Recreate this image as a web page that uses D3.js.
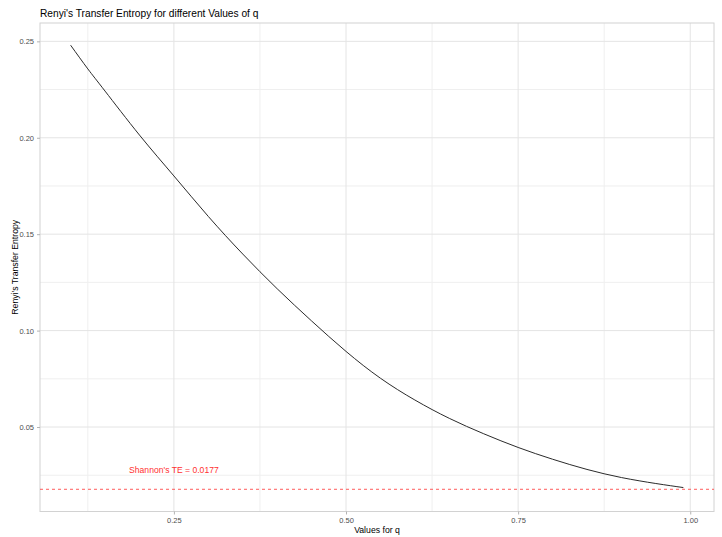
<!DOCTYPE html>
<html><head><meta charset="utf-8">
<script src="https://cdn.jsdelivr.net/npm/d3@7"></script>
<style>body{margin:0;background:#fff;} text{font-family:"Liberation Sans",Arial,sans-serif;}</style>
</head><body>
<svg id="chart" width="722" height="537"></svg>
<script>
const qValues = [0.10,0.125,0.15,0.20,0.25,0.30,0.35,0.40,0.45,0.50,0.55,0.60,0.65,0.70,0.75,0.80,0.85,0.90,0.95,0.99];
const teValues = [0.248,0.2357,0.2242,0.2014,0.1802,0.1592,0.1397,0.1217,0.1050,0.0892,0.0753,0.0640,0.0545,0.0465,0.0394,0.0333,0.0280,0.0238,0.0207,0.0186];
const shannonTE = 0.0177;
const xTicks = [0.25,0.50,0.75,1.00];
const yTicks = [0.05,0.10,0.15,0.20,0.25];
const xMinor = [0.125,0.375,0.625,0.875];
const yMinor = [0.025,0.075,0.125,0.175,0.225];
const annotation = {q:0.25, v:0.0277, label:"Shannon's TE = 0.0177"};

const svg = d3.select("#chart");
const m = {l:40, r:8, t:23, b:25.5};
const W = 722, H = 537;
const qMin = d3.min(qValues), qMax = d3.max(qValues);
const vMin = Math.min(d3.min(teValues), shannonTE), vMax = d3.max(teValues);
const qPad = (qMax-qMin)*0.05, vPad = (vMax-vMin)*0.05;
const x = d3.scaleLinear().domain([qMin-qPad, qMax+qPad]).range([m.l, W-m.r]);
const y = d3.scaleLinear().domain([vMin-vPad, vMax+vPad]).range([H-m.b, m.t]);

const g = svg.append("g");
// minor grid
g.selectAll(".xm").data(xMinor).join("line").attr("x1",d=>x(d)).attr("x2",d=>x(d)).attr("y1",m.t).attr("y2",H-m.b).attr("stroke","#efefef").attr("stroke-width",1);
g.selectAll(".ym").data(yMinor).join("line").attr("y1",d=>y(d)).attr("y2",d=>y(d)).attr("x1",m.l).attr("x2",W-m.r).attr("stroke","#efefef").attr("stroke-width",1);
// major grid
g.selectAll(".xg").data(xTicks).join("line").attr("x1",d=>x(d)).attr("x2",d=>x(d)).attr("y1",m.t).attr("y2",H-m.b).attr("stroke","#e4e4e4").attr("stroke-width",1);
g.selectAll(".yg").data(yTicks).join("line").attr("y1",d=>y(d)).attr("y2",d=>y(d)).attr("x1",m.l).attr("x2",W-m.r).attr("stroke","#e4e4e4").attr("stroke-width",1);
// panel border
svg.append("rect").attr("x",m.l).attr("y",m.t).attr("width",W-m.r-m.l).attr("height",H-m.b-m.t).attr("fill","none").attr("stroke","#d2d2d2").attr("stroke-width",1);

// axes
const xAxis = d3.axisBottom(x).tickValues(xTicks).tickFormat(d3.format(".2f")).tickSizeOuter(0).tickSize(3).tickPadding(3);
const yAxis = d3.axisLeft(y).tickValues(yTicks).tickFormat(d3.format(".2f")).tickSizeOuter(0).tickSize(3).tickPadding(3);
const gx = svg.append("g").attr("transform",`translate(0,${H-m.b})`).call(xAxis);
const gy = svg.append("g").attr("transform",`translate(${m.l},0)`).call(yAxis);
[gx,gy].forEach(a=>{
  a.select(".domain").remove();
  a.selectAll(".tick line").attr("stroke","#b3b3b3");
  a.selectAll(".tick text").attr("fill","#4d4d4d").style("font-size","7.5px").style("font-family","Liberation Sans, Arial, sans-serif");
});

// hline
svg.append("line").attr("x1",m.l).attr("x2",W-m.r).attr("y1",y(shannonTE)).attr("y2",y(shannonTE))
  .attr("stroke","#ff4040").attr("stroke-opacity",0.85).attr("stroke-width",1).attr("stroke-dasharray","3,3");

// curve
const data = qValues.map((q,i)=>({q, v:teValues[i]}));
svg.append("path").datum(data).attr("fill","none").attr("stroke","#2b2b2b").attr("stroke-width",1)
  .attr("d", d3.line().x(d=>x(d.q)).y(d=>y(d.v)).curve(d3.curveNatural));

// annotation
svg.append("text").attr("x",x(annotation.q)).attr("y",y(annotation.v)).attr("text-anchor","middle").attr("dy","0.35em")
  .attr("fill","#ff3030").style("font-size","8.6px").text(annotation.label);

// titles
svg.append("text").attr("x",m.l).attr("y",17).attr("fill","#000").style("font-size","10.2px").text("Renyi's Transfer Entropy for different Values of q");
svg.append("text").attr("x",(m.l+W-m.r)/2).attr("y",533).attr("text-anchor","middle").attr("fill","#000").style("font-size","8.7px").text("Values for q");
svg.append("text").attr("transform",`translate(18,${(m.t+H-m.b)/2}) rotate(-90)`).attr("text-anchor","middle").attr("fill","#000").style("font-size","8.7px").text("Renyi's Transfer Entropy");
</script>
</body></html>
